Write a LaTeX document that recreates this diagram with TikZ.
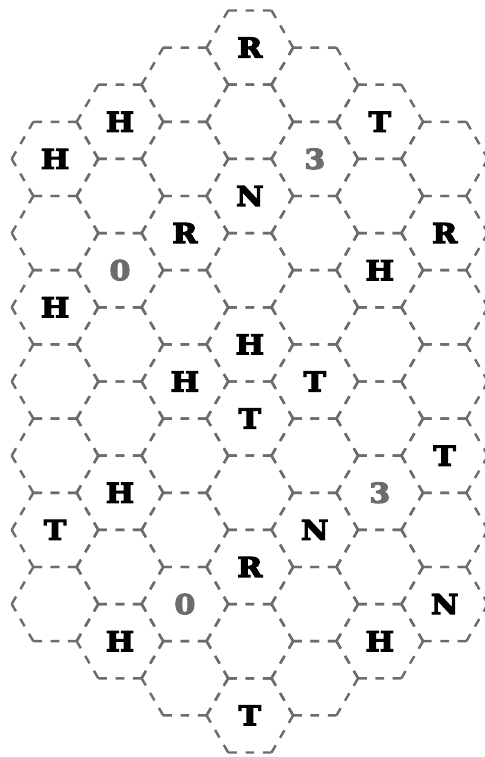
\documentclass[tikz,border=0pt]{standalone}
\usepackage{fontspec}
\setmainfont{DejaVu Serif}
\newfontfamily\slabfont{DejaVu Serif}[BoldFeatures={FakeBold=4.5,FakeStretch=1.1}]
\definecolor{gridgray}{RGB}{108,108,108}
\tikzset{
    cell/.style={draw=gridgray, line width=1.6pt, dash pattern=on 0.2cm off 0.2cm},
    letter/.style={font=\slabfont\bfseries\fontsize{18pt}{18pt}\selectfont, text=black, inner sep=0pt},
    digit/.style={letter, text=gridgray},
}

\begin{document}
\begin{tikzpicture}
    \def\xo{1.2702}
    \def\yo{0.2425}
    \def\hh{0.8568}
    \useasboundingbox (0,0) rectangle (11.178,-17.483);

    % Grade hexagonal (cada lado como um trecho proprio)
    \foreach \c/\rlo/\rhi in {0/4/16, 1/3/17, 2/2/18, 3/1/19, 4/2/18, 5/3/17, 6/4/16} {
        \pgfmathtruncatemacro{\rsec}{\rlo+2}
        \foreach \r in {\rlo,\rsec,...,\rhi} {
            \begin{scope}[shift={({\xo+1.5*\c},{-\yo-\hh*\r})}]
                \draw[cell] (-1,0) -- (-0.5,\hh) (-0.5,\hh) -- (0.5,\hh)
                    (0.5,\hh) -- (1,0) (1,0) -- (0.5,-\hh)
                    (0.5,-\hh) -- (-0.5,-\hh) (-0.5,-\hh) -- (-1,0);
            \end{scope}
        }
    }

    % Letras
    \foreach \c/\r/\t in {0/4/H, 0/8/H, 0/14/T, 1/3/H, 1/13/H, 1/17/H,
                         2/6/R, 2/10/H, 3/1/R, 3/5/N, 3/9/H, 3/11/T,
                         3/15/R, 3/19/T, 4/10/T, 4/14/N, 5/3/T, 5/7/H,
                         5/17/H, 6/6/R, 6/12/T, 6/16/N}
        \node[letter] (l\c-\r) at ({\xo+1.5*\c},{-\yo-\hh*\r}) {\t};

    % Numeros
    \foreach \c/\r/\t in {1/7/0, 2/16/0, 4/4/3, 5/13/3}
        \node[digit] (d\c-\r) at ({\xo+1.5*\c},{-\yo-\hh*\r}) {\t};
\end{tikzpicture}
\end{document}
